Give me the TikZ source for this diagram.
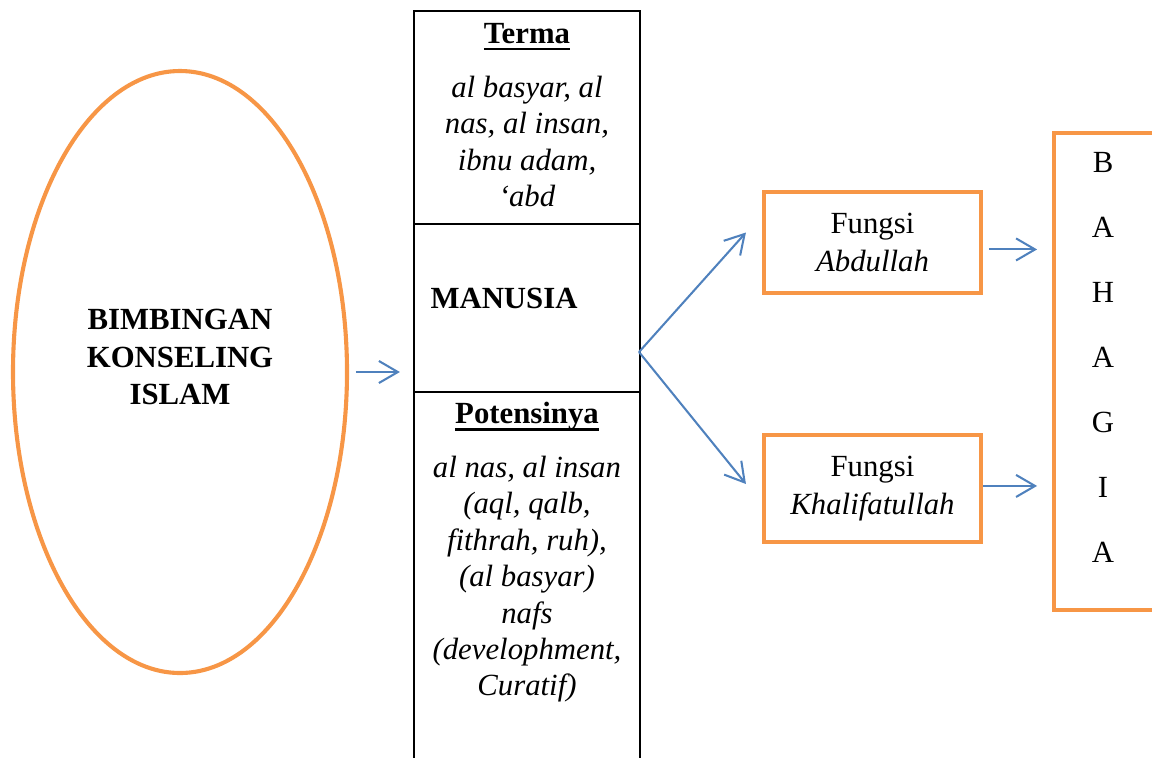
\documentclass[tikz,border=0pt]{standalone}
\usepackage{fontspec}
\setmainfont{Liberation Serif}
\usetikzlibrary{arrows.meta,shapes.geometric,calc}
\definecolor{accentorange}{HTML}{F79646}
\definecolor{accentblue}{HTML}{4F81BD}
% heading with a heavier underline
\newcommand{\headul}[1]{{\setbox0\hbox{#1}\rlap{\rule[-2.6pt]{\wd0}{1pt}}\box0}}

\begin{document}
\begin{tikzpicture}[x=0.39pt,y=-0.39pt,
  obox/.style={draw=accentorange, line width=1.6pt, rectangle, inner sep=0pt},
  cell/.style={draw=black, line width=1pt, rectangle, minimum width=226*0.39pt, inner sep=0pt, outer sep=0pt},
  arr/.style={draw=accentblue, line width=0.8pt, -{Straight Barb[length=7.4pt,width=8.6pt]}},
  body/.style={font=\fontsize{12pt}{14.2pt}\selectfont, align=center, inner sep=0pt},
  wide/.style={font=\fontsize{12pt}{14.8pt}\selectfont, align=center, inner sep=0pt},
  ]
\useasboundingbox (0,0) rectangle (1152,757);
\clip (0,0) rectangle (1152,757);

% left ellipse
\node[draw=accentorange, line width=1.6pt, ellipse, minimum width=334*0.39pt,
      minimum height=602*0.39pt, inner sep=0pt] (bki) at (180,372) {};
\node[wide, font=\fontsize{12pt}{14.8pt}\selectfont\bfseries] (bkitext) at (180,357)
  {BIMBINGAN\\KONSELING\\ISLAM};

% central column
\node[cell, minimum height=213*0.39pt] (terma) at (527,117.5) {};
\node[cell, minimum height=168*0.39pt] (manusia) at (527,308) {};
\node[cell, minimum height=420*0.39pt] (potensi) at (527,602) {};

\node[body, anchor=north] (termatext) at ($(terma.north)+(0,12)$)
  {\textbf{\headul{Terma}}\\[6.7pt]
   \textit{al basyar, al}\\ \textit{nas, al insan,}\\ \textit{ibnu adam,}\\ \textit{‘abd}};
\node[anchor=base west, inner sep=0pt, font=\fontsize{12pt}{14.2pt}\selectfont\bfseries]
  (manusiatext) at ($(manusia.west)+(16,0)$) {MANUSIA};
\node[body, anchor=north] (potensitext) at ($(potensi.north)+(0,10)$)
  {\textbf{\headul{Potensinya}}\\[6.7pt]
   \textit{al nas, al insan}\\ \textit{(aql, qalb,}\\ \textit{fithrah, ruh),}\\
   \textit{(al basyar)}\\ \textit{nafs}\\ \textit{(develophment,}\\ \textit{Curatif)}};

% function boxes
\node[obox, wide, minimum width=217*0.39pt, minimum height=101*0.39pt] (abd) at (872.5,242.5)
  {Fungsi\\\textit{Abdullah}};
\node[obox, wide, minimum width=217*0.39pt, minimum height=107*0.39pt] (khal) at (872.5,488.5)
  {Fungsi\\\textit{Khalifatullah}};

% outcome box
\node[obox, minimum width=110*0.39pt, minimum height=477*0.39pt] (bahagia) at (1109,371.5) {};
\node[body, font=\fontsize{12pt}{25.35pt}\selectfont] (bahagiatext) at (1103,357.5)
  {B\\A\\H\\A\\G\\I\\A};

% connectors
\draw[arr, shorten <=2.7pt, shorten >=5.5pt] (bki.east) -- (bki.east -| manusia.west);
\coordinate (fork) at ($(manusia.east)+(-1,44)$);
\draw[arr] (fork) -- ($(abd.west)+(-16,-10)$);
\draw[arr] (fork) -- ($(khal.west)+(-16,-4.5)$);
\coordinate (a1) at ([yshift=-2.7pt]abd.east);
\coordinate (k1) at ([yshift=1pt]khal.east);
\draw[arr, shorten <=2.3pt, shorten >=5.8pt] (a1) -- (a1 -| bahagia.west);
\draw[arr, shorten >=5.8pt] (k1) -- (k1 -| bahagia.west);
\end{tikzpicture}
\end{document}
